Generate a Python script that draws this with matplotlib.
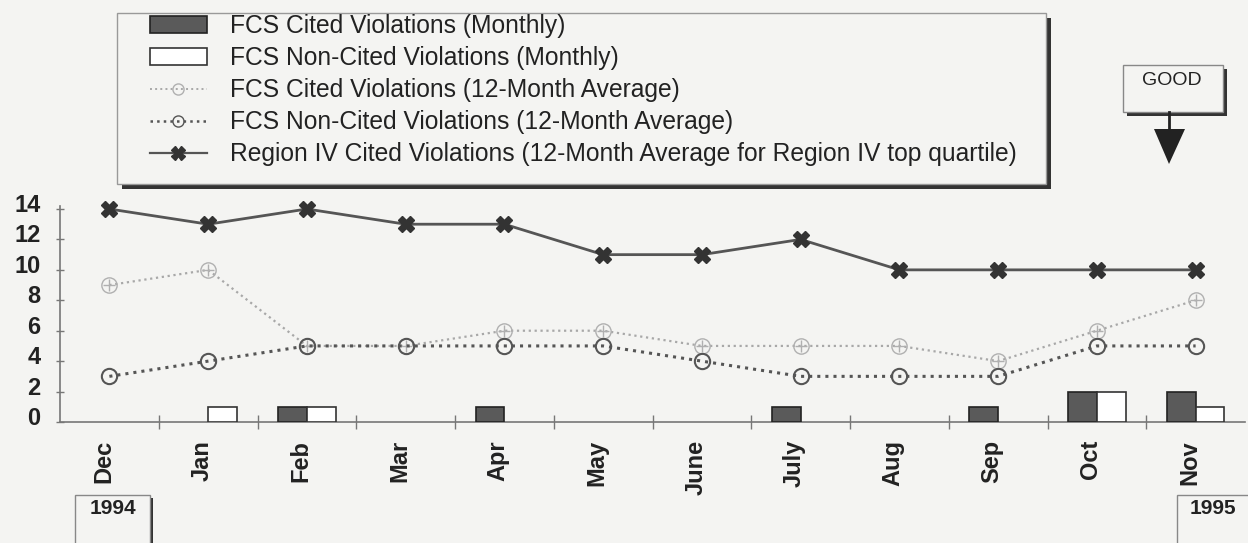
import matplotlib
matplotlib.use("Agg")
import matplotlib.pyplot as plt
from matplotlib.patches import Rectangle, Polygon, Patch
from matplotlib.lines import Line2D
from matplotlib.transforms import ScaledTranslation

months = ["Dec", "Jan", "Feb", "Mar", "Apr", "May", "June", "July", "Aug", "Sep", "Oct", "Nov"]
cited_monthly = [0, 0, 1, 0, 1, 0, 0, 1, 0, 1, 2, 2]
noncited_monthly = [0, 1, 1, 0, 0, 0, 0, 0, 0, 0, 2, 1]
cited_avg = [9, 10, 5, 5, 6, 6, 5, 5, 5, 4, 6, 8]
noncited_avg = [3, 4, 5, 5, 5, 5, 4, 3, 3, 3, 5, 5]
region4_avg = [14, 13, 14, 13, 13, 11, 11, 12, 10, 10, 10, 10]
yticks = [0, 2, 4, 6, 8, 10, 12, 14]
legend_labels = ["FCS Cited Violations (Monthly)",
                 "FCS Non-Cited Violations (Monthly)",
                 "FCS Cited Violations (12-Month Average)",
                 "FCS Non-Cited Violations (12-Month Average)",
                 "Region IV Cited Violations (12-Month Average for Region IV top quartile)"]

plt.rcParams['font.family'] = ['Liberation Sans', 'DejaVu Sans']
W, H = 1248, 543
BG = '#f4f4f2'
fig = plt.figure(figsize=(W / 100, H / 100), dpi=100, facecolor=BG)

def fx(x):
    return x / W

def fy(y):
    return 1 - y / H

ax = fig.add_axes([fx(60), fy(422), fx(1245) - fx(60), fy(205) - fy(422)])
ax.set_facecolor('none')
x = list(range(len(months)))
bw = 0.29

ax.bar([i - bw / 2 for i in x], cited_monthly, width=bw, color='#5a5a5a',
       edgecolor='#222222', linewidth=[1.2 if v > 0 else 0 for v in cited_monthly], zorder=3)
ax.bar([i + bw / 2 for i in x], noncited_monthly, width=bw, color='white',
       edgecolor='#333333', linewidth=[1.2 if v > 0 else 0 for v in noncited_monthly], zorder=3)

ax.plot(x, cited_avg, linestyle=':', color='#a8a8a8', linewidth=1.6, marker='o',
        markersize=11, markerfacecolor='none', markeredgecolor='#b0b0b0', zorder=4, clip_on=False)
ax.plot(x, cited_avg, linestyle='none', color='#b0b0b0', marker='+', markersize=9,
        zorder=4, clip_on=False)
ax.plot(x, noncited_avg, linestyle=':', color='#555555', linewidth=2.2, marker='o',
        markersize=11, markerfacecolor='none', markeredgecolor='#555555', markeredgewidth=1.5,
        zorder=5, clip_on=False)
ax.plot(x, region4_avg, linestyle='-', color='#555555', linewidth=2.0, marker='X',
        markersize=12, markerfacecolor='#333333', markeredgecolor='#333333', zorder=6, clip_on=False)

ax.set_xlim(-0.5, len(months) - 0.5)
ax.set_ylim(0, 14 * 217 / 213)
for s in ['top', 'right']:
    ax.spines[s].set_visible(False)
for s in ['left', 'bottom']:
    ax.spines[s].set_color('#777777')
    ax.spines[s].set_linewidth(1.2)
ax.spines['left'].set_bounds(0, 14.2)

ax.set_yticks(yticks)
ax.set_yticklabels([str(v) for v in yticks], fontsize=17, fontweight='bold', color='#222222')
ax.tick_params(axis='y', direction='inout', length=6, width=1, color='#777777', pad=11)
for lab in ax.get_yticklabels():
    lab.set_transform(lab.get_transform() + ScaledTranslation(0, 0.06, fig.dpi_scale_trans))

ax.set_xticks(x)
ax.set_xticklabels(months, rotation=90, fontsize=17, fontweight='bold', color='#222222',
                   va='top', ha='center')
ax.tick_params(axis='x', which='major', length=0, pad=13)
for lab in ax.get_xticklabels():
    lab.set_transform(lab.get_transform() + ScaledTranslation(-0.06, 0, fig.dpi_scale_trans))
ax.set_xticks([i + 0.5 for i in x[:-1]], minor=True)
ax.tick_params(axis='x', which='minor', direction='inout', length=10, width=1, color='#777777')

# Legend box with shadow
fig.patches.append(Rectangle((fx(122), fy(189)), fx(1051) - fx(122), fy(18) - fy(189),
                             transform=fig.transFigure, facecolor='#333333', edgecolor='none', zorder=1))
fig.patches.append(Rectangle((fx(117), fy(184)), fx(1046) - fx(117), fy(13) - fy(184),
                             transform=fig.transFigure, facecolor=BG, edgecolor='#999999',
                             linewidth=1, zorder=2))

handles = [
    Patch(facecolor='#5a5a5a', edgecolor='#222222', linewidth=1.2),
    Patch(facecolor='white', edgecolor='#333333', linewidth=1.2),
    Line2D([], [], linestyle=':', color='#a8a8a8', linewidth=1.4, marker='o', markersize=8,
           markerfacecolor='none', markeredgecolor='#b0b0b0'),
    Line2D([], [], linestyle=':', color='#555555', linewidth=1.8, marker='o', markersize=8,
           markerfacecolor='none', markeredgecolor='#555555'),
    Line2D([], [], linestyle='-', color='#555555', linewidth=1.6, marker='X', markersize=10,
           markerfacecolor='#333333', markeredgecolor='#333333'),
]
leg = fig.legend(handles, legend_labels, loc='upper left', bbox_to_anchor=(fx(150), fy(14)),
                 bbox_transform=fig.transFigure, frameon=False, fontsize=17.7,
                 handlelength=2.3, handleheight=0.7, handletextpad=0.95, labelspacing=0.33,
                 borderpad=0, borderaxespad=0)
for t in leg.get_texts():
    t.set_color('#222222')
leg.set_zorder(3)

# GOOD box with arrow
fig.patches.append(Rectangle((fx(1127), fy(116)), fx(1227) - fx(1127), fy(69) - fy(116),
                             transform=fig.transFigure, facecolor='#333333', edgecolor='none'))
fig.patches.append(Rectangle((fx(1123), fy(112)), fx(1223) - fx(1123), fy(65) - fy(112),
                             transform=fig.transFigure, facecolor=BG, edgecolor='#888888', linewidth=1))
fig.text(fx(1172), fy(80), "GOOD", ha='center', va='center', fontsize=14, color='#222222')
fig.lines.append(Line2D([fx(1169), fx(1169)], [fy(112), fy(132)], transform=fig.transFigure,
                        color='#222222', linewidth=2))
fig.patches.append(Polygon([(fx(1154), fy(129)), (fx(1185), fy(129)), (fx(1169), fy(164))],
                           closed=True, transform=fig.transFigure, facecolor='#222222', edgecolor='none'))

# Year boxes
for (x0, x1, label, tx) in [(75, 150, "1994", 113), (1177, 1252, "1995", 1213)]:
    fig.patches.append(Rectangle((fx(x0 + 3), fy(548)), fx(x1 + 3) - fx(x0 + 3), fy(498) - fy(548),
                                 transform=fig.transFigure, facecolor='#333333', edgecolor='none'))
    fig.patches.append(Rectangle((fx(x0), fy(548)), fx(x1) - fx(x0), fy(495) - fy(548),
                                 transform=fig.transFigure, facecolor=BG, edgecolor='#888888', linewidth=1))
    fig.text(fx(tx), fy(509), label, ha='center', va='center', fontsize=15, fontweight='bold',
             color='#222222')

fig.savefig("out.png", dpi=100, facecolor=BG)
